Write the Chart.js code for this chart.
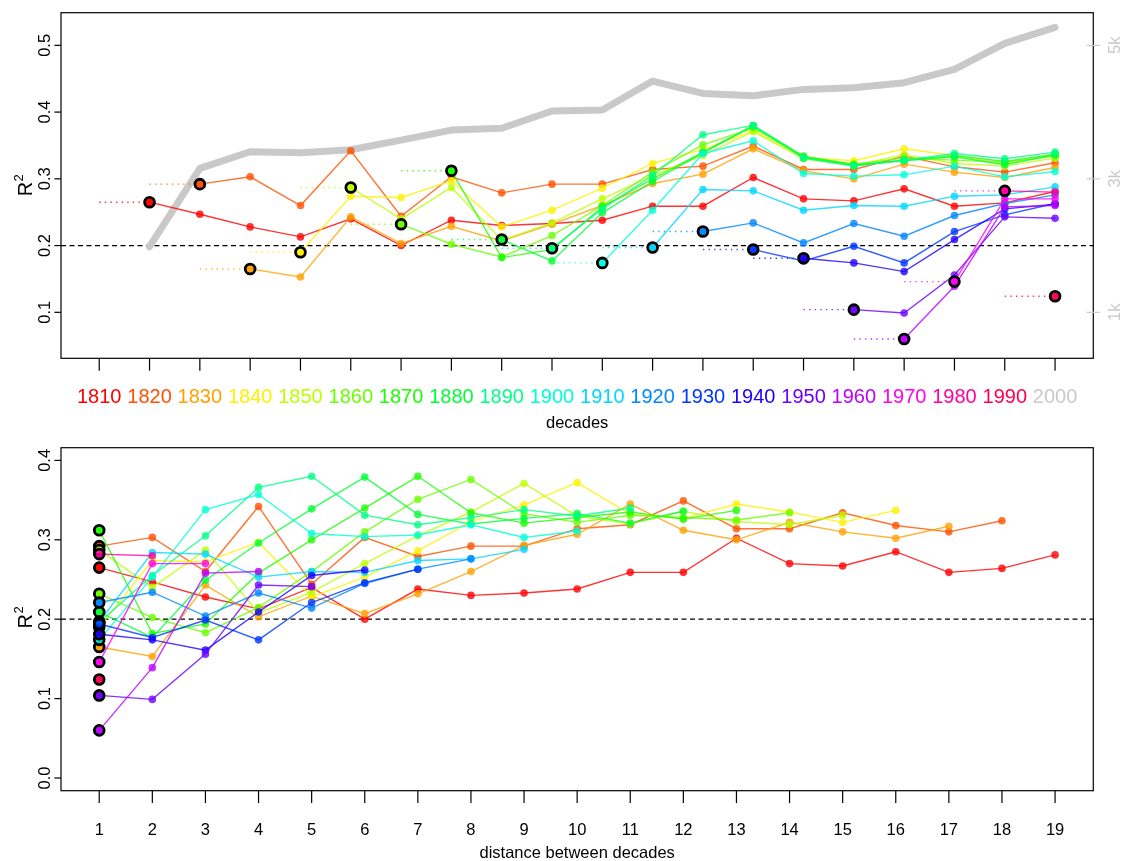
<!DOCTYPE html>
<html>
<head>
<meta charset="utf-8">
<title>R2 between decades</title>
<script src="https://cdn.jsdelivr.net/npm/chart.js@4.4.1/dist/chart.umd.min.js"></script>
<style>
  body { margin: 0; background: #fff; }
  #topBox { position: absolute; left: 0; top: 0; width: 1126px; height: 440px; }
  #bottomBox { position: absolute; left: 0; top: 440px; width: 1126px; height: 421px; }
</style>
</head>
<body>
<div id="topBox"><canvas id="topChart" width="1126" height="440"></canvas></div>
<div id="bottomBox"><canvas id="bottomChart" width="1126" height="421"></canvas></div>
<script>
'use strict';

// decades (x categories of the top panel)
var decades = [1810, 1820, 1830, 1840, 1850, 1860, 1870, 1880, 1890, 1900,
               1910, 1920, 1930, 1940, 1950, 1960, 1970, 1980, 1990, 2000];
// grey line, right axis (per decade)
var wordCounts = [null, 1983, 3157, 3406, 3390, 3436, 3580, 3730, 3757, 4016,
                  4030, 4465, 4280, 4245, 4340, 4365, 4440, 4640, 5030, 5270];
// distances 1..19 (x of the bottom panel)
var distances = [1, 2, 3, 4, 5, 6, 7, 8, 9, 10, 11, 12, 13, 14, 15, 16, 17, 18, 19];

// R2 of each start decade vs the decades after it, by distance 1, 2, 3 ...
var s1810 = [0.265, 0.247, 0.228, 0.213, 0.240, 0.200, 0.238, 0.230, 0.233, 0.238, 0.259, 0.259, 0.302, 0.270, 0.267, 0.285, 0.259, 0.264, 0.281];
var s1820 = [0.292, 0.303, 0.260, 0.342, 0.244, 0.303, 0.279, 0.292, 0.292, 0.314, 0.319, 0.349, 0.314, 0.314, 0.334, 0.318, 0.310, 0.324];
var s1830 = [0.165, 0.153, 0.243, 0.203, 0.229, 0.207, 0.232, 0.260, 0.293, 0.307, 0.345, 0.312, 0.300, 0.322, 0.310, 0.302, 0.317];
var s1840 = [0.190, 0.274, 0.272, 0.297, 0.228, 0.253, 0.286, 0.323, 0.344, 0.372, 0.332, 0.327, 0.345, 0.335, 0.322, 0.337];
var s1850 = [0.287, 0.240, 0.287, 0.208, 0.234, 0.270, 0.305, 0.335, 0.371, 0.330, 0.320, 0.336, 0.323, 0.319, 0.331];
var s1860 = [0.232, 0.202, 0.183, 0.215, 0.260, 0.310, 0.351, 0.376, 0.333, 0.322, 0.331, 0.328, 0.325, 0.334];
var s1870 = [0.312, 0.182, 0.194, 0.258, 0.300, 0.340, 0.380, 0.334, 0.321, 0.328, 0.335, 0.326, 0.337];
var s1880 = [0.209, 0.177, 0.249, 0.296, 0.339, 0.379, 0.332, 0.320, 0.327, 0.333, 0.321, 0.336];
var s1890 = [0.196, 0.255, 0.305, 0.366, 0.380, 0.331, 0.319, 0.328, 0.338, 0.330, 0.340];
var s1900 = [0.174, 0.253, 0.338, 0.357, 0.308, 0.304, 0.306, 0.319, 0.303, 0.311];
var s1910 = [0.197, 0.284, 0.282, 0.253, 0.260, 0.259, 0.274, 0.276, 0.288];
var s1920 = [0.221, 0.234, 0.204, 0.233, 0.214, 0.245, 0.263, 0.276];
var s1930 = [0.194, 0.177, 0.199, 0.174, 0.221, 0.246, 0.263];
var s1940 = [0.181, 0.174, 0.161, 0.209, 0.255, 0.262];
var s1950 = [0.104, 0.099, 0.156, 0.243, 0.241];
var s1960 = [0.060, 0.139, 0.258, 0.260];
var s1970 = [0.146, 0.270, 0.270];
var s1980 = [0.282, 0.280];
var s1990 = [0.124];
var seriesValues = [s1810, s1820, s1830, s1840, s1850, s1860, s1870, s1880, s1890, s1900,
                    s1910, s1920, s1930, s1940, s1950, s1960, s1970, s1980, s1990];

// tick labels
var topTicks = [0.1, 0.2, 0.3, 0.4, 0.5];
var topTickLabels = ['0.1', '0.2', '0.3', '0.4', '0.5'];
var bottomTicks = [0, 0.1, 0.2, 0.3, 0.4];
var bottomTickLabels = ['0.0', '0.1', '0.2', '0.3', '0.4'];
var wordTicks = [1000, 3000, 5000];
var wordTickLabels = ['1k', '3k', '5k'];

var FONT = '"Liberation Sans", Arial, Helvetica, sans-serif';
var GREY = '#c9c9c9';
var TOP_MIN = 0.0311, TOP_MAX = 0.5489;

function col(i, a) {
   return 'hsla(' + (360 * i / 19).toFixed(1) + ',100%,50%,' + a + ')';
}

function vtext(ctx, txt, x, y) {
   ctx.save();
   ctx.translate(x, y);
   ctx.rotate(-Math.PI / 2);
   ctx.textAlign = 'center';
   ctx.textBaseline = 'alphabetic';
   ctx.fillText(txt, 0, 0);
   ctx.restore();
}

function r2Label(ctx, x, y) {
   ctx.save();
   ctx.translate(x, y);
   ctx.rotate(-Math.PI / 2);
   ctx.fillStyle = '#000';
   ctx.textAlign = 'left';
   ctx.textBaseline = 'alphabetic';
   ctx.font = '20px ' + FONT;
   var wR = ctx.measureText('R').width;
   ctx.font = '13px ' + FONT;
   var w2 = ctx.measureText('2').width;
   var start = -(wR + w2) / 2;
   ctx.font = '20px ' + FONT;
   ctx.fillText('R', start, 0);
   ctx.font = '13px ' + FONT;
   ctx.fillText('2', start + wR + 0.5, -8.5);
   ctx.restore();
}

function dashedRef(chart) {
   var ctx = chart.ctx, ca = chart.chartArea;
   var py = chart.scales.y.getPixelForValue(0.2);
   ctx.save();
   ctx.strokeStyle = '#000';
   ctx.lineWidth = 1.3;
   ctx.setLineDash([5, 3.5]);
   ctx.beginPath();
   ctx.moveTo(ca.left, py);
   ctx.lineTo(ca.right, py);
   ctx.stroke();
   ctx.restore();
}

function frameAndYAxis(chart, ticks, labels, r2y) {
   var ctx = chart.ctx, ca = chart.chartArea, ys = chart.scales.y;
   ctx.save();
   ctx.strokeStyle = '#000';
   ctx.lineWidth = 1.2;
   ctx.strokeRect(ca.left, ca.top, ca.right - ca.left, ca.bottom - ca.top);
   ctx.fillStyle = '#000';
   ctx.font = '16.5px ' + FONT;
   ticks.forEach(function (t, i) {
      var py = ys.getPixelForValue(t);
      ctx.beginPath();
      ctx.moveTo(ca.left - 6.6, py);
      ctx.lineTo(ca.left, py);
      ctx.stroke();
      vtext(ctx, labels[i], 50, py);
   });
   r2Label(ctx, 31.7, r2y);
   ctx.restore();
}

// ---------- top panel ----------
var topSets = [];
topSets.push({
   data: decades.map(function (d, i) { return { x: d, y: wordCounts[i] }; }),
   yAxisID: 'y2', borderColor: GREY, borderWidth: 7, pointRadius: 0,
   borderJoinStyle: 'round', borderCapStyle: 'round', spanGaps: false, order: 1000
});
var topCircles = [], topCircleColors = [];
seriesValues.forEach(function (vals, i) {
   topSets.push({
      data: [{ x: decades[i], y: vals[0] }, { x: decades[i + 1], y: vals[0] }],
      borderColor: col(i, 0.8), borderWidth: 1.4, borderDash: [1.4, 4.2],
      pointRadius: 0, order: 800 - i
   });
   topSets.push({
      data: vals.map(function (v, k) { return { x: decades[i + 1 + k], y: v }; }),
      borderColor: col(i, 0.8), borderWidth: 1.4,
      pointRadius: 3.8, pointBorderWidth: 0, pointBackgroundColor: col(i, 0.8),
      order: 500 - i
   });
   topCircles.push({ x: decades[i + 1], y: vals[0] });
   topCircleColors.push(col(i, 0.85));
});
topSets.push({
   data: topCircles, showLine: false, pointRadius: 4.9, pointBorderWidth: 2.8,
   pointBorderColor: '#000', pointBackgroundColor: topCircleColors, order: 0
});

var topAxes = {
   id: 'topAxes',
   beforeDatasetsDraw: function (chart) { dashedRef(chart); },
   afterDraw: function (chart) {
      var ctx = chart.ctx, ca = chart.chartArea, xs = chart.scales.x, y2 = chart.scales.y2;
      frameAndYAxis(chart, topTicks, topTickLabels, 185.5);
      ctx.save();
      ctx.lineWidth = 1.2;
      ctx.strokeStyle = '#000';
      ctx.textAlign = 'center';
      ctx.textBaseline = 'alphabetic';
      ctx.font = '20px ' + FONT;
      decades.forEach(function (d, i) {
         var px = xs.getPixelForValue(d);
         ctx.beginPath();
         ctx.moveTo(px, ca.bottom);
         ctx.lineTo(px, ca.bottom + 12.4);
         ctx.stroke();
         ctx.fillStyle = i < seriesValues.length ? col(i, 1) : GREY;
         ctx.fillText(String(d), px, 403.3);
      });
      ctx.fillStyle = '#000';
      ctx.font = '16.5px ' + FONT;
      ctx.fillText('decades', (ca.left + ca.right) / 2, 427.5);
      // right axis
      ctx.strokeStyle = GREY;
      ctx.fillStyle = GREY;
      wordTicks.forEach(function (w, i) {
         var py = y2.getPixelForValue(w);
         ctx.beginPath();
         ctx.moveTo(ca.right - 6.6, py);
         ctx.lineTo(ca.right + 6.6, py);
         ctx.stroke();
         vtext(ctx, wordTickLabels[i], 1120, py);
      });
      ctx.restore();
   }
};

new Chart(document.getElementById('topChart').getContext('2d'), {
   type: 'line',
   data: { datasets: topSets },
   options: {
      responsive: false, animation: false, events: [],
      layout: { padding: { left: 61, top: 12.7, right: 32.7, bottom: 81.7 } },
      plugins: { legend: { display: false }, tooltip: { enabled: false } },
      scales: {
         x: { type: 'linear', min: 1802.4, max: 2007.6, display: false },
         y: { min: TOP_MIN, max: TOP_MAX, display: false },
         y2: { min: TOP_MIN * 10000, max: TOP_MAX * 10000, display: false, position: 'right' }
      }
   },
   plugins: [topAxes]
});

// ---------- bottom panel ----------
var bottomSets = [];
var bottomCircles = [], bottomCircleColors = [];
seriesValues.forEach(function (vals, i) {
   bottomSets.push({
      data: vals.map(function (v, k) { return { x: distances[k], y: v }; }),
      borderColor: col(i, 0.8), borderWidth: 1.4,
      pointRadius: 3.8, pointBorderWidth: 0, pointBackgroundColor: col(i, 0.8),
      order: 500 - i
   });
   bottomCircles.push({ x: distances[0], y: vals[0] });
   bottomCircleColors.push(col(i, 0.85));
});
bottomSets.push({
   data: bottomCircles, showLine: false, pointRadius: 4.9, pointBorderWidth: 2.8,
   pointBorderColor: '#000', pointBackgroundColor: bottomCircleColors, order: 0
});

var bottomAxes = {
   id: 'bottomAxes',
   beforeDatasetsDraw: function (chart) { dashedRef(chart); },
   afterDraw: function (chart) {
      var ctx = chart.ctx, ca = chart.chartArea, xs = chart.scales.x;
      frameAndYAxis(chart, bottomTicks, bottomTickLabels, 177.7);
      ctx.save();
      ctx.lineWidth = 1.2;
      ctx.strokeStyle = '#000';
      ctx.fillStyle = '#000';
      ctx.textAlign = 'center';
      ctx.textBaseline = 'alphabetic';
      ctx.font = '16.5px ' + FONT;
      distances.forEach(function (d) {
         var px = xs.getPixelForValue(d);
         ctx.beginPath();
         ctx.moveTo(px, ca.bottom);
         ctx.lineTo(px, ca.bottom + 12.4);
         ctx.stroke();
         ctx.fillText(String(d), px, 395);
      });
      ctx.fillText('distance between decades', (ca.left + ca.right) / 2, 418);
      ctx.restore();
   }
};

new Chart(document.getElementById('bottomChart').getContext('2d'), {
   type: 'line',
   data: { datasets: bottomSets },
   options: {
      responsive: false, animation: false, events: [],
      layout: { padding: { left: 61, top: 4.7, right: 32.7, bottom: 70.3 } },
      plugins: { legend: { display: false }, tooltip: { enabled: false } },
      scales: {
         x: { type: 'linear', min: 0.28, max: 19.72, display: false },
         y: { min: -0.016, max: 0.416, display: false }
      }
   },
   plugins: [bottomAxes]
});
</script>
</body>
</html>
